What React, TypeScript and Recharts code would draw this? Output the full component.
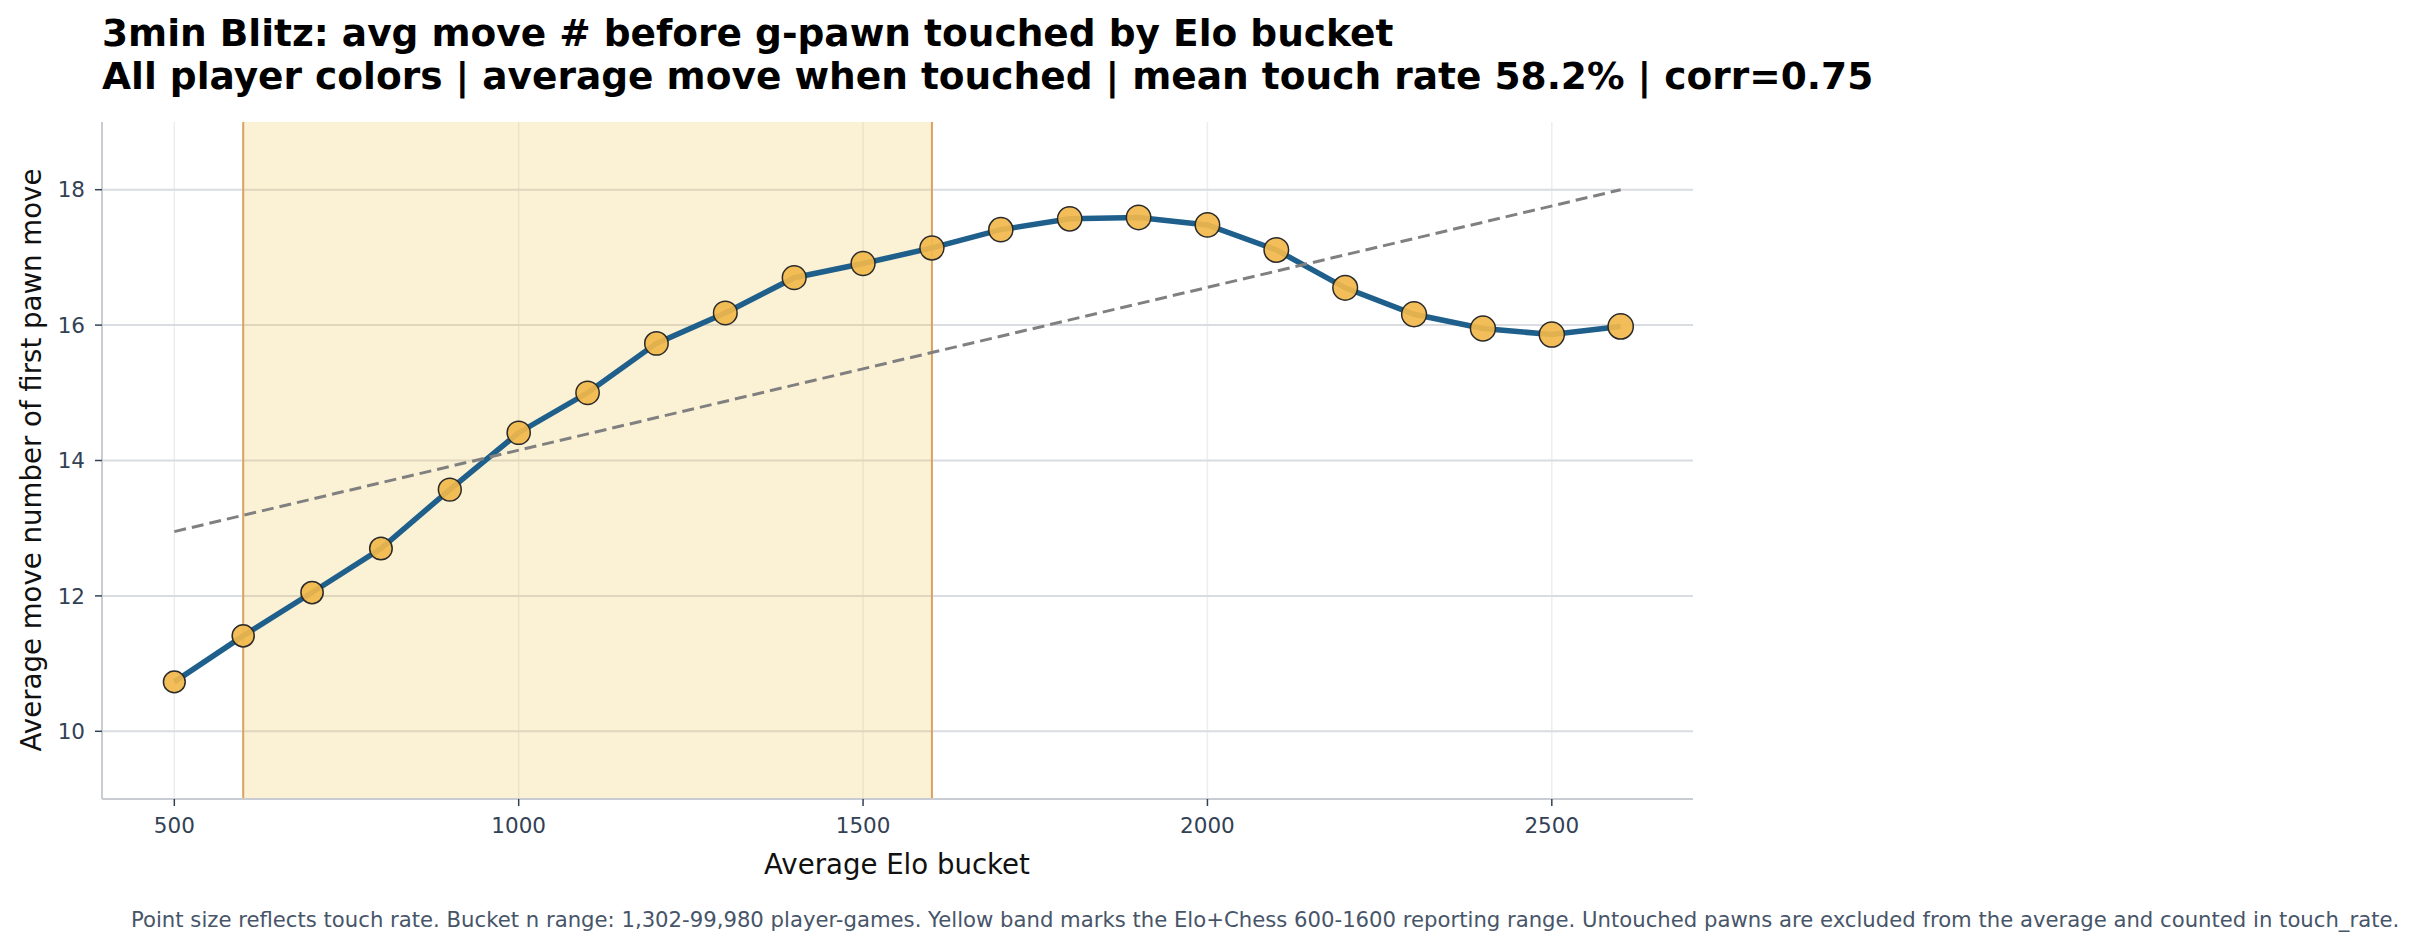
import { ComposedChart, Line, Scatter, XAxis, YAxis, ZAxis, CartesianGrid, ReferenceArea, ReferenceLine } from "recharts";

const eloBuckets = [500, 600, 700, 800, 900, 1000, 1100, 1200, 1300, 1400, 1500, 1600, 1700, 1800, 1900, 2000, 2100, 2200, 2300, 2400, 2500, 2600];
const avgMove = [10.73, 11.41, 12.05, 12.70, 13.57, 14.41, 15.0, 15.73, 16.18, 16.70, 16.91, 17.14, 17.41, 17.57, 17.59, 17.48, 17.11, 16.55, 16.16, 15.95, 15.86, 15.98];
const touchRate = [0.45, 0.47, 0.48, 0.5, 0.52, 0.54, 0.55, 0.56, 0.57, 0.58, 0.59, 0.6, 0.61, 0.62, 0.63, 0.63, 0.64, 0.65, 0.66, 0.67, 0.68, 0.69];
const trendX = [500, 2600];
const trendY = [12.95, 18.0];
const xTicks = [500, 1000, 1500, 2000, 2500];
const yTicks = [10, 12, 14, 16, 18];
const band = [600, 1600];

const rows = eloBuckets.map((elo, i) => ({ elo, avg: avgMove[i], rate: touchRate[i] }));
const trendRows = trendX.map((elo, i) => ({ elo, trend: trendY[i] }));

const FONT = "'DejaVu Sans', sans-serif";
const TICK = { fontSize: 21.5, fill: "#334155", fontFamily: FONT };

export default function App() {
  return (
    <div style={{ position: "absolute", left: 0, top: 0, width: 2414, height: 950, background: "#fff", fontFamily: FONT }}>
      {/* title */}
      <div style={{ position: "absolute", left: 102, top: 12, fontSize: 37.5, fontWeight: "bold", lineHeight: "43px", color: "#000", whiteSpace: "nowrap" }}>
        3min Blitz: avg move # before g-pawn touched by Elo bucket
        <br />
        All player colors | average move when touched | mean touch rate 58.2% | corr=0.75
      </div>

      <ComposedChart width={2414} height={950} data={rows} margin={{ top: 122, right: 721, bottom: 91, left: 22 }}>
        <CartesianGrid horizontal={false} stroke="#ededf0" strokeWidth={1.5} verticalValues={xTicks} />
        <CartesianGrid vertical={false} stroke="#d9dce1" strokeWidth={2} horizontalValues={yTicks} />
        <ReferenceArea x1={band[0]} x2={band[1]} fill="rgb(240,200,90)" fillOpacity={0.26} stroke="none" />
        <ReferenceLine x={band[0]} stroke="#d9a35f" strokeWidth={2} />
        <ReferenceLine x={band[1]} stroke="#d9a35f" strokeWidth={2} />
        <XAxis
          type="number"
          dataKey="elo"
          domain={[395, 2705]}
          ticks={xTicks}
          height={60}
          tick={TICK}
          tickSize={7}
          tickMargin={12}
          tickLine={{ stroke: "#334155", strokeWidth: 1.5 }}
          axisLine={{ stroke: "#c9cdd3", strokeWidth: 2 }}
        />
        <YAxis
          type="number"
          domain={[9, 19]}
          ticks={yTicks}
          width={80}
          tick={TICK}
          tickSize={7}
          tickMargin={10}
          tickLine={{ stroke: "#334155", strokeWidth: 1.5 }}
          axisLine={{ stroke: "#c9cdd3", strokeWidth: 2 }}
        />
        <ZAxis type="number" dataKey="rate" domain={[0.4, 0.75]} range={[346, 531]} />
        <Line type="linear" dataKey="avg" stroke="#1f5f8b" strokeWidth={5.5} dot={false} activeDot={false} isAnimationActive={false} />
        <Line data={trendRows} type="linear" dataKey="trend" stroke="#808080" strokeWidth={3} strokeDasharray="12 6" dot={false} activeDot={false} isAnimationActive={false} />
        <Scatter dataKey="avg" fill="#f2b84b" fillOpacity={0.92} stroke="#2a2a2a" strokeWidth={1.5} isAnimationActive={false} />
      </ComposedChart>

      {/* axis labels */}
      <div style={{ position: "absolute", left: 897, top: 864, transform: "translate(-50%, -50%)", fontSize: 27.6, color: "#111", whiteSpace: "nowrap" }}>
        Average Elo bucket
      </div>
      <div style={{ position: "absolute", left: 31, top: 460, transform: "translate(-50%, -50%) rotate(-90deg)", fontSize: 27.6, color: "#111", whiteSpace: "nowrap" }}>
        Average move number of first pawn move
      </div>

      {/* footer */}
      <div style={{ position: "absolute", left: 131, top: 919, transform: "translateY(-50%)", fontSize: 21.2, color: "#475569", whiteSpace: "nowrap" }}>
        Point size reflects touch rate. Bucket n range: 1,302-99,980 player-games. Yellow band marks the Elo+Chess 600-1600 reporting range. Untouched pawns are excluded from the average and counted in touch_rate.
      </div>
    </div>
  );
}
